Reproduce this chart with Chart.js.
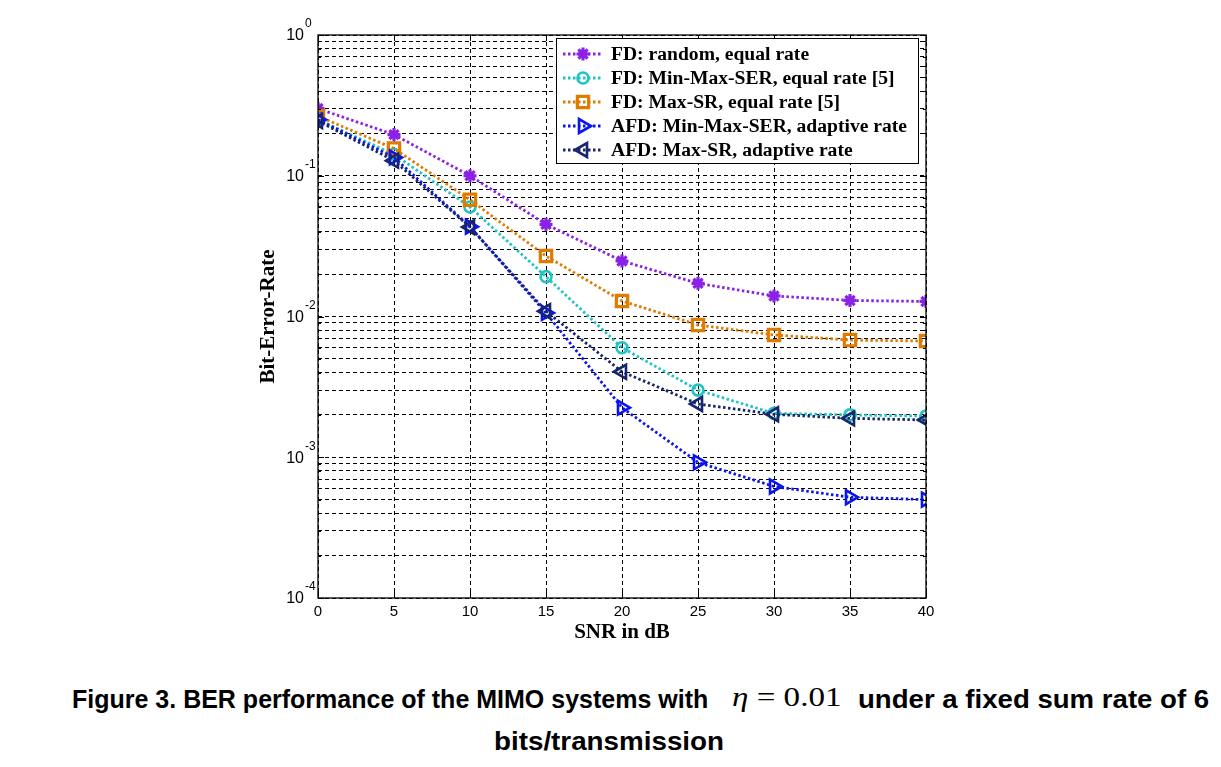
<!DOCTYPE html>
<html>
<head>
<meta charset="utf-8">
<script src="https://cdn.jsdelivr.net/npm/chart.js@4.4.0/dist/chart.umd.min.js"></script>
<style>
  body { margin: 0; background: #fff; width: 1221px; height: 767px; overflow: hidden; position: relative; }
  #chart-box { position: absolute; left: 0; top: 0; width: 1221px; height: 660px; }
  .cap { position: absolute; font: bold 25px "Liberation Sans", Arial, sans-serif; color: #000; white-space: nowrap; transform-origin: 0 0; }
  .eq { position: absolute; font: 27px "Liberation Serif", "Times New Roman", serif; color: #000; white-space: nowrap; transform-origin: 0 0; }
  .eq i { font-style: italic; }
</style>
</head>
<body>
<div id="chart-box"><canvas id="berChart"></canvas></div>
<div class="cap" id="capA" style="left:72px; top:685px;">Figure 3. BER performance of the MIMO systems with</div>
<div class="eq" id="capEq" style="left:732px; top:682px;"><i>η</i> = 0.01</div>
<div class="cap" id="capB" style="left:858px; top:685px;">under a fixed sum rate of 6</div>
<div class="cap" id="capC" style="left:494px; top:727px;">bits/transmission</div>

<script>
// x axis: SNR in dB
const snr = [0, 5, 10, 15, 20, 25, 30, 35, 40];

// BER curves
const berRandom = [0.300, 0.196, 0.100, 0.0452, 0.0248, 0.0172, 0.0140, 0.0130, 0.0128];
const berMinMaxSer = [0.250, 0.142, 0.0600, 0.0192, 0.0060, 0.0030, 0.00205, 0.00200, 0.00196];
const berMaxSr = [0.265, 0.156, 0.0675, 0.0269, 0.0129, 0.0087, 0.0074, 0.0068, 0.0067];
const berAfdMinMaxSer = [0.250, 0.135, 0.0435, 0.0106, 0.00225, 0.00092, 0.00062, 0.00052, 0.00050];
const berAfdMaxSr = [0.245, 0.128, 0.0432, 0.0109, 0.00405, 0.00239, 0.00202, 0.00189, 0.00184];

const seriesNames = [
  "FD: random, equal rate",
  "FD: Min-Max-SER, equal rate [5]",
  "FD: Max-SR, equal rate [5]",
  "AFD: Min-Max-SER, adaptive rate",
  "AFD: Max-SR, adaptive rate",
];

// ticks
const xTicks = [0, 5, 10, 15, 20, 25, 30, 35, 40];
const yDecadeExps = [-4, -3, -2, -1, 0];
const yMantissas = [1, 2, 3, 4, 5, 6, 7, 8, 9];

const serif = '"Liberation Serif", "Times New Roman", serif';
const sans = '"Liberation Sans", Arial, sans-serif';

// stretch/squeeze the caption pieces to the widths they have in the figure
function fitWidth(id, width) {
  const el = document.getElementById(id);
  el.style.transform = "scaleX(" + width / el.offsetWidth + ")";
}
fitWidth("capA", 636);
fitWidth("capEq", 109);
fitWidth("capB", 351);
fitWidth("capC", 230);

function makeSet(label, values, color, style) {
  return Object.assign({
    label: label,
    data: values.map((v, i) => ({ x: snr[i], y: v })),
    borderColor: color,
    pointBorderColor: color,
    backgroundColor: "rgba(0,0,0,0)",
    pointBackgroundColor: "rgba(0,0,0,0)",
    borderWidth: 2.8,
    borderDash: [2.5, 2.5],
    pointBorderWidth: 2.6,
    pointRadius: 6,
    pointRotation: 0,
    tension: 0,
    fill: false,
  }, style);
}

const datasets = [
  makeSet(seriesNames[0], berRandom, "#8a22e6", { pointStyle: "star", pointRadius: 6.5, pointBorderWidth: 3.2, order: 5 }),
  makeSet(seriesNames[1], berMinMaxSer, "#1fc4c4", { pointStyle: "circle", pointRadius: 5.5, order: 4 }),
  makeSet(seriesNames[2], berMaxSr, "#e07b00", { pointStyle: "rect", pointRadius: 8, pointBorderWidth: 3.2, order: 3 }),
  makeSet(seriesNames[3], berAfdMinMaxSer, "#0a14f0", { pointStyle: "triangle", pointRotation: 90, pointRadius: 8, order: 2 }),
  makeSet(seriesNames[4], berAfdMaxSr, "#17256e", { pointStyle: "triangle", pointRotation: -90, pointRadius: 8, order: 1 }),
];

function yGridValues() {
  const vals = [];
  yDecadeExps.forEach((e) => {
    yMantissas.forEach((m) => {
      const v = m * Math.pow(10, e);
      if (v <= 1.0000001) vals.push(v);
    });
  });
  return vals;
}

function drawMarker(ctx, ds, x, y) {
  const opts = {
    pointStyle: ds.pointStyle,
    rotation: ds.pointRotation,
    radius: ds.pointRadius,
    borderWidth: ds.pointBorderWidth,
  };
  ctx.save();
  ctx.setLineDash([]);
  ctx.strokeStyle = ds.pointBorderColor;
  ctx.fillStyle = ds.pointBackgroundColor;
  ctx.lineWidth = ds.pointBorderWidth;
  Chart.helpers.drawPoint(ctx, opts, x, y);
  ctx.restore();
}

const framePlugin = {
  id: "framePlugin",
  afterDraw(chart) {
    const { ctx, chartArea: a, scales } = chart;
    const ys = scales.y;
    const xs = scales.x;
    ctx.save();
    // axes box
    ctx.strokeStyle = "#000";
    ctx.lineWidth = 1.3;
    ctx.setLineDash([]);
    ctx.strokeRect(a.left, a.top, a.right - a.left, a.bottom - a.top);
    // inward tick marks
    ctx.lineWidth = 1;
    ctx.beginPath();
    yGridValues().forEach((v, i) => {
      const py = Math.round(ys.getPixelForValue(v)) + 0.5;
      const len = i % yMantissas.length === 0 ? 6 : 3;
      ctx.moveTo(a.left, py); ctx.lineTo(a.left + len, py);
      ctx.moveTo(a.right, py); ctx.lineTo(a.right - len, py);
    });
    xTicks.forEach((v) => {
      const px = Math.round(xs.getPixelForValue(v)) + 0.5;
      ctx.moveTo(px, a.bottom); ctx.lineTo(px, a.bottom - 6);
      ctx.moveTo(px, a.top); ctx.lineTo(px, a.top + 6);
    });
    ctx.stroke();

    // decade labels 10^n
    ctx.fillStyle = "#000";
    yDecadeExps.forEach((e) => {
      const py = ys.getPixelForValue(Math.pow(10, e));
      ctx.font = "16px " + sans;
      ctx.textAlign = "right";
      ctx.textBaseline = "middle";
      ctx.fillText("10", a.left - 14, py + 1);
      ctx.font = "12px " + sans;
      ctx.textAlign = "left";
      ctx.fillText(String(e), a.left - 13, py - 11);
    });

    // legend box
    const lx = 556, ly = 38, lw = 362, lh = 125;
    ctx.fillStyle = "#fff";
    ctx.fillRect(lx, ly, lw, lh);
    ctx.strokeStyle = "#000";
    ctx.lineWidth = 1;
    ctx.strokeRect(lx + 0.5, ly + 0.5, lw, lh);
    chart.data.datasets.forEach((ds, i) => {
      const ry = ly + 16 + i * 24;
      ctx.save();
      ctx.strokeStyle = ds.borderColor;
      ctx.lineWidth = ds.borderWidth;
      ctx.setLineDash(ds.borderDash);
      ctx.beginPath();
      ctx.moveTo(lx + 7, ry);
      ctx.lineTo(lx + 47, ry);
      ctx.stroke();
      ctx.restore();
      drawMarker(ctx, ds, lx + 27, ry);
      ctx.fillStyle = "#000";
      ctx.font = "bold 19.6px " + serif;
      ctx.textAlign = "left";
      ctx.textBaseline = "middle";
      ctx.fillText(ds.label, lx + 55, ry + 1);
    });
    ctx.restore();
  },
};

new Chart("berChart", {
  type: "line",
  data: { datasets: datasets },
  plugins: [framePlugin],
  options: {
    responsive: true,
    maintainAspectRatio: false,
    animation: false,
    events: [],
    layout: { padding: { left: 256, right: 295, top: 35, bottom: 0 } },
    scales: {
      x: {
        type: "linear",
        min: 0,
        max: 40,
        afterBuildTicks: (scale) => { scale.ticks = xTicks.map((v) => ({ value: v })); },
        afterFit: (scale) => { scale.height = 62; },
        ticks: {
          color: "#000",
          padding: 5,
          font: { family: sans, size: 15 },
          callback: (v) => String(v),
          maxRotation: 0,
        },
        grid: { color: "#000", lineWidth: 1, drawTicks: false },
        border: { display: false, dash: [4, 3] },
        title: {
          display: true,
          text: "SNR in dB",
          color: "#000",
          font: { family: serif, size: 21, weight: "bold" },
          padding: { top: 0, bottom: 15 },
        },
      },
      y: {
        type: "logarithmic",
        min: 1e-4,
        max: 1,
        afterBuildTicks: (scale) => { scale.ticks = yGridValues().map((v) => ({ value: v })); },
        afterFit: (scale) => { scale.width = 62; },
        ticks: { display: false },
        grid: { color: "#000", lineWidth: 1, drawTicks: false },
        border: { display: false, dash: [4, 3] },
        title: {
          display: true,
          text: "Bit-Error-Rate",
          color: "#000",
          font: { family: serif, size: 21, weight: "bold" },
          padding: { top: 0, bottom: 0 },
        },
      },
    },
    plugins: {
      legend: { display: false },
      tooltip: { enabled: false },
    },
  },
});
</script>
</body>
</html>
